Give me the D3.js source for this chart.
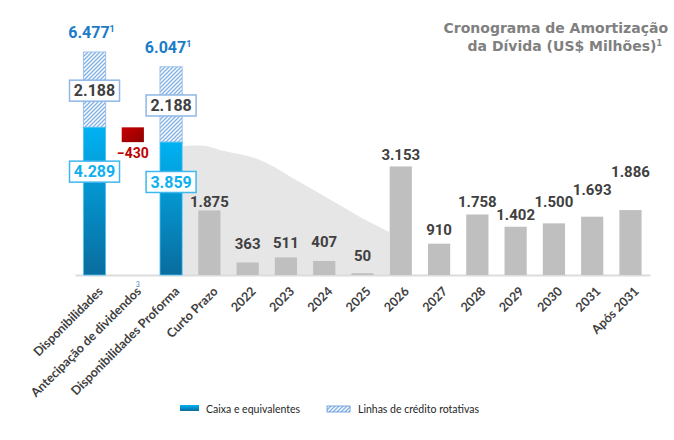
<!DOCTYPE html>
<html>
<head>
<meta charset="utf-8">
<script src="https://cdn.jsdelivr.net/npm/d3@7"></script>
<style>
  body { margin: 0; background: #fff; }
  svg { display: block; }
</style>
</head>
<body>
<div id="chart"></div>
<script>
// ===========================================================
// DATA
// ===========================================================
var categorias = ["Disponibilidades", "Antecipação de dividendos", "Disponibilidades Proforma",
    "Curto Prazo", "2022", "2023", "2024", "2025", "2026", "2027", "2028", "2029", "2030", "2031", "Após 2031"];

// liquidez (US$ milhões)
var liquidezCats = ["Disponibilidades", "Disponibilidades Proforma"];
var caixa = [4289, 3859];
var credito = [2188, 2188];
var totais = [6477, 6047];
var antecipacao = -430;

// cronograma de amortização
var cronoCats = categorias.slice(3);
var amortizacao = [1875, 363, 511, 407, 50, 3153, 910, 1758, 1402, 1500, 1693, 1886];
var labelLift = [9, 19, 15, 19, 18, 12, 14, 13, 12, 22, 27, 38]; // px acima da barra

// sombra decorativa (posição em nº de categorias, valor)
var sombraPos = [2.31, 2.8, 3.27, 4.32, 5.36, 6.40, 7.18, 7.70];
var sombraVal = [3750, 3760, 3634, 3343, 2703, 2035, 1540, 1250];

// ===========================================================
// SVG
// ===========================================================
var svgWidth = 674, svgHeight = 440;
var baseY = 275;

var svg = d3.select("#chart").append("svg")
    .attr("width", svgWidth)
    .attr("height", svgHeight);

var fmt = d3.formatLocale({decimal: ",", thousands: ".", grouping: [3], currency: ["US$", ""]}).format(",d");

var x = d3.scaleBand()
    .domain(categorias)
    .range([75, 650])
    .paddingInner(0.42)
    .paddingOuter(0.22);

var y = d3.scaleLinear()
    .domain([0, 6477])
    .range([baseY, 52]);

// ===========================================================
// DEFS
// ===========================================================
var defs = svg.append("defs");

var gBlue = defs.append("linearGradient").attr("id", "gBlue")
    .attr("x1", 0).attr("y1", 0).attr("x2", 0).attr("y2", 1);
gBlue.append("stop").attr("offset", "0%").attr("stop-color", "#00b2f2");
gBlue.append("stop").attr("offset", "100%").attr("stop-color", "#0a6c9e");

var gRed = defs.append("linearGradient").attr("id", "gRed")
    .attr("x1", 0).attr("y1", 0).attr("x2", 1).attr("y2", 1);
gRed.append("stop").attr("offset", "0%").attr("stop-color", "#c80000");
gRed.append("stop").attr("offset", "100%").attr("stop-color", "#8e0000");

var hatch = defs.append("pattern").attr("id", "hatch")
    .attr("patternUnits", "userSpaceOnUse")
    .attr("width", 4).attr("height", 4);
hatch.append("rect").attr("width", 4).attr("height", 4).attr("fill", "#fff");
hatch.append("path")
    .attr("d", "M-1,1 l2,-2 M0,4 l4,-4 M3,5 l2,-2")
    .attr("stroke", "#7fb0e6")
    .attr("stroke-width", 1.3);

// ===========================================================
// SOMBRA
// ===========================================================
var step = x.step();
var x0 = x(categorias[0]) + x.bandwidth() / 2;
var sombra = sombraPos.map(function(p, i) { return {p: p, v: sombraVal[i]}; });

svg.append("path")
    .datum(sombra)
    .attr("fill", "#e6e6e6")
    .attr("d", d3.area()
        .curve(d3.curveMonotoneX)
        .x(function(d) { return x0 + d.p * step; })
        .y0(baseY)
        .y1(function(d) { return y(d.v); }));

// ===========================================================
// EIXO
// ===========================================================
var xAxis = svg.append("g")
    .attr("transform", "translate(0," + baseY + ")")
    .call(d3.axisBottom(x).tickSize(0).tickSizeOuter(0));

xAxis.select(".domain").attr("stroke", "#dcdcdc").attr("stroke-width", 2);
xAxis.selectAll("text")
    .attr("x", 0).attr("y", 0).attr("dy", "0.35em")
    .attr("transform", "translate(6,14) rotate(-45)")
    .attr("text-anchor", "end")
    .style("font-family", "Lato, 'Open Sans', sans-serif")
    .style("font-weight", "700")
    .style("font-size", "12.5px")
    .style("fill", "#404040");

svg.append("text")
    .attr("x", x("Antecipação de dividendos") + x.bandwidth() / 2 + 3)
    .attr("y", baseY + 12)
    .text("3")
    .style("font-family", "Lato, sans-serif")
    .style("font-size", "7px")
    .style("fill", "#4a7fc0");

// ===========================================================
// BARRAS CRONOGRAMA
// ===========================================================
var crono = cronoCats.map(function(c, i) { return {cat: c, v: amortizacao[i], lift: labelLift[i]}; });

svg.append("g").selectAll("rect")
    .data(crono)
    .enter().append("rect")
    .attr("x", function(d) { return x(d.cat); })
    .attr("width", x.bandwidth())
    .attr("y", function(d) { return y(d.v); })
    .attr("height", function(d) { return baseY - y(d.v); })
    .attr("fill", "#bfbfbf");

svg.append("g").selectAll("text")
    .data(crono)
    .enter().append("text")
    .attr("x", function(d) { return x(d.cat) + x.bandwidth() / 2; })
    .attr("y", function(d) { return y(d.v) - d.lift; })
    .attr("dy", "0.35em")
    .attr("text-anchor", "middle")
    .text(function(d) { return fmt(d.v); })
    .style("font-family", "Roboto, sans-serif")
    .style("font-weight", "700")
    .style("font-size", "15px")
    .style("fill", "#404040");

// ===========================================================
// BARRAS LIQUIDEZ
// ===========================================================
var liq = liquidezCats.map(function(c, i) { return {cat: c, caixa: caixa[i], credito: credito[i], total: totais[i]}; });
var gLiq = svg.append("g").selectAll("g").data(liq).enter().append("g");

gLiq.append("rect")
    .attr("x", function(d) { return x(d.cat); })
    .attr("width", x.bandwidth())
    .attr("y", function(d) { return y(d.caixa + d.credito); })
    .attr("height", function(d) { return y(d.caixa) - y(d.caixa + d.credito); })
    .attr("fill", "url(#hatch)")
    .attr("stroke", "#9cc2ec")
    .attr("stroke-width", 1);

gLiq.append("rect")
    .attr("x", function(d) { return x(d.cat); })
    .attr("width", x.bandwidth())
    .attr("y", function(d) { return y(d.caixa); })
    .attr("height", function(d) { return baseY - y(d.caixa); })
    .attr("fill", "url(#gBlue)")
    .attr("stroke", "#4cc3f4")
    .attr("stroke-width", 0.8);

// caixas de rótulos
function boxLabel(sel, cy, value, color, border) {
    var g = sel.append("g")
        .attr("transform", function(d) { return "translate(" + (x(d.cat) + x.bandwidth() / 2) + "," + cy(d) + ")"; });
    g.append("rect")
        .attr("x", -25).attr("y", -10.5)
        .attr("width", 50).attr("height", 21)
        .attr("fill", "#fff")
        .attr("stroke", border)
        .attr("stroke-width", 1.5);
    g.append("text")
        .attr("text-anchor", "middle")
        .attr("dy", "0.36em")
        .text(function(d) { return fmt(value(d)); })
        .style("font-family", "Roboto, sans-serif")
        .style("font-weight", "700")
        .style("font-size", "16px")
        .style("fill", color);
}

boxLabel(gLiq, function(d) { return (y(d.caixa + d.credito) + y(d.caixa)) / 2 + 1; },
    function(d) { return d.credito; }, "#404040", "#8fb8e6");
boxLabel(gLiq, function(d) { return y(d.caixa) + 0.3 * (baseY - y(d.caixa)); },
    function(d) { return d.caixa; }, "#10b0ee", "#3fb8ee");

var tot = gLiq.append("text")
    .attr("x", function(d) { return x(d.cat) + x.bandwidth() / 2 - 3; })
    .attr("y", function(d) { return y(d.total) - 14; })
    .attr("text-anchor", "middle")
    .style("font-family", "Roboto, sans-serif")
    .style("font-weight", "700")
    .style("font-size", "16px")
    .style("fill", "#1b7cc8");
tot.append("tspan").text(function(d) { return fmt(d.total); });
tot.append("tspan").attr("dy", -6).style("font-size", "9px").text("1");

// antecipação (cascata)
var antCat = "Antecipação de dividendos";
svg.append("rect")
    .attr("x", x(antCat))
    .attr("width", x.bandwidth())
    .attr("y", y(caixa[0]))
    .attr("height", y(caixa[0] + antecipacao) - y(caixa[0]))
    .attr("fill", "url(#gRed)");

svg.append("text")
    .attr("x", x(antCat) + x.bandwidth() / 2)
    .attr("y", y(caixa[0] + antecipacao) + 11)
    .attr("dy", "0.35em")
    .attr("text-anchor", "middle")
    .text(fmt(antecipacao))
    .style("font-family", "Roboto, sans-serif")
    .style("font-weight", "700")
    .style("font-size", "14px")
    .style("fill", "#c00000");

// ===========================================================
// TITULO
// ===========================================================
var title = svg.append("text")
    .attr("text-anchor", "end")
    .style("font-family", "'DejaVu Sans', sans-serif")
    .style("font-weight", "700")
    .style("font-size", "14px")
    .style("fill", "#808080");
title.append("tspan").attr("x", 668).attr("y", 33).text("Cronograma de Amortização");
title.append("tspan").attr("x", 662).attr("y", 51).text("da Dívida (US$ Milhões)");
title.append("tspan").attr("dy", -5).style("font-size", "8px").text("1");

// ===========================================================
// LEGENDA
// ===========================================================
var legend = svg.append("g").attr("transform", "translate(180,405)");
legend.append("rect").attr("x", 0).attr("y", 0).attr("width", 19).attr("height", 6).attr("fill", "url(#gBlue)");
legend.append("text").attr("x", 26).attr("y", 8).text("Caixa e equivalentes")
    .style("font-family", "Lato, sans-serif").style("font-size", "10.5px").style("fill", "#262626");
legend.append("rect").attr("x", 147).attr("y", 1).attr("width", 23).attr("height", 6)
    .attr("fill", "url(#hatch)").attr("stroke", "#5a92d6").attr("stroke-width", 0.8);
legend.append("text").attr("x", 178).attr("y", 8).text("Linhas de crédito rotativas")
    .style("font-family", "Lato, sans-serif").style("font-size", "10.5px").style("fill", "#262626");
</script>
</body>
</html>
